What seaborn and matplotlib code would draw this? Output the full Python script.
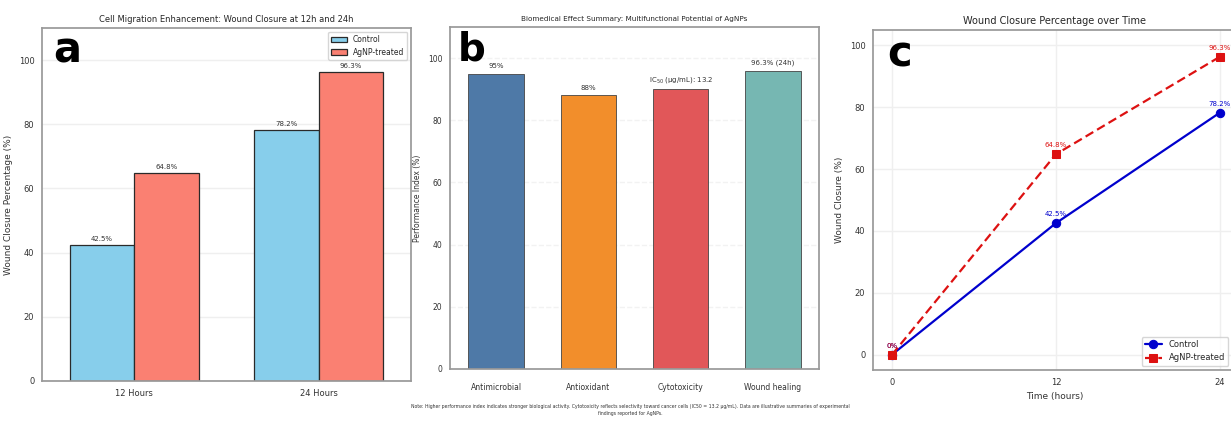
import numpy as np
import pandas as pd
import matplotlib
matplotlib.use("Agg")
import matplotlib.pyplot as plt
import seaborn as sns

# ---- data ----
time_groups = ["12 Hours", "24 Hours"]
treatments = ["Control", "AgNP-treated"]
control_vals = [42.5, 78.2]
agnp_vals = [64.8, 96.3]

effects = ["Antimicrobial", "Antioxidant", "Cytotoxicity", "Wound healing"]
effect_vals = [95, 88, 90, 96]
effect_labels = ["95%", "88%", "IC$_{50}$ (μg/mL): 13.2", "96.3% (24h)"]

time_hours = [0, 12, 24]
control_curve = [0, 42.5, 78.2]
agnp_curve = [0, 64.8, 96.3]

footnote = ("Note: Higher performance index indicates stronger biological activity. Cytotoxicity reflects selectivity "
            "toward cancer cells (IC50 = 13.2 μg/mL). Data are illustrative summaries of experimental\n"
            "findings reported for AgNPs.")

sns.set_theme(style="whitegrid")
plt.rcParams['font.family'] = ['DejaVu Sans']
plt.rcParams['axes.edgecolor'] = '#999999'
plt.rcParams['grid.color'] = '#efefef'

W, H = 1231, 429
fig = plt.figure(figsize=(W / 100, H / 100), dpi=100)

def box(l, t, r, b):
    return [l / W, 1 - b / H, (r - l) / W, (b - t) / H]

axa = fig.add_axes(box(42, 28, 411, 381))
axb = fig.add_axes(box(450, 27, 819, 369))
axc = fig.add_axes(box(873, 30, 1236, 370))

# ---- panel a ----
dfa = pd.DataFrame({
    "Time": time_groups * 2,
    "Group": [treatments[0]] * 2 + [treatments[1]] * 2,
    "Value": control_vals + agnp_vals,
})
sns.barplot(data=dfa, x="Time", y="Value", hue="Group", ax=axa,
            palette=["skyblue", "salmon"], width=0.7, edgecolor="#2a2a2a",
            linewidth=0.9, saturation=1)
for cont in axa.containers:
    axa.bar_label(cont, labels=[f"{v:.1f}%" for v in cont.datavalues],
                  fontsize=5, padding=2, color="#333333")
axa.set_ylim(0, 110)
axa.set_yticks([0, 20, 40, 60, 80, 100])
axa.set_xlabel("")
axa.set_ylabel("Wound Closure Percentage (%)", fontsize=6.5, color="#333333")
axa.set_title("Cell Migration Enhancement: Wound Closure at 12h and 24h", fontsize=6, pad=4)
axa.tick_params(labelsize=6, length=2, colors="#333333")
axa.legend(loc="upper right", fontsize=5.5, frameon=True, title=None)
axa.grid(axis="x", visible=False)
axa.text(0.03, 0.995, "a", transform=axa.transAxes, fontsize=30, fontweight="bold",
         va="top", ha="left", color="black")

# ---- panel b ----
dfb = pd.DataFrame({"Effect": effects, "Value": effect_vals})
sns.barplot(data=dfb, x="Effect", y="Value", hue="Effect", ax=axb, legend=False,
            palette=["#4e79a7", "#f28e2b", "#e15759", "#76b7b2"], width=0.6,
            edgecolor="#444444", linewidth=0.6, saturation=1)
for cont, lab in zip(axb.containers, effect_labels):
    axb.bar_label(cont, labels=[lab], fontsize=5, padding=3, color="#333333")
axb.set_ylim(0, 110)
axb.set_yticks([0, 20, 40, 60, 80, 100])
axb.set_xlabel("")
axb.set_ylabel("Performance Index (%)", fontsize=5.5, color="#333333")
axb.set_title("Biomedical Effect Summary: Multifunctional Potential of AgNPs", fontsize=5.2, pad=4)
axb.tick_params(labelsize=5.5, length=2, colors="#333333")
axb.tick_params(axis="x", pad=8)
axb.grid(axis="x", visible=False)
axb.grid(axis="y", linestyle="--", alpha=0.8)
axb.text(0.02, 0.99, "b", transform=axb.transAxes, fontsize=28, fontweight="bold",
         va="top", ha="left", color="black")

# ---- panel c ----
dfc = pd.DataFrame({
    "Time": time_hours * 2,
    "Value": control_curve + agnp_curve,
    "Group": [treatments[0]] * 3 + [treatments[1]] * 3,
})
sns.lineplot(data=dfc, x="Time", y="Value", hue="Group", style="Group", ax=axc,
             palette=["mediumblue", "#dd1111"], markers=["o", "s"],
             dashes=[(None, None), (4, 2)], linewidth=1.6, markersize=6,
             markeredgecolor=None)
for x, y in zip(time_hours, control_curve):
    axc.annotate(f"{y:g}%", (x, y), textcoords="offset points", xytext=(0, 5),
                 ha="center", fontsize=5, color="mediumblue")
for x, y in zip(time_hours, agnp_curve):
    axc.annotate(f"{y:g}%", (x, y), textcoords="offset points", xytext=(0, 5),
                 ha="center", fontsize=5, color="#dd1111")
axc.set_ylim(-5, 105)
axc.set_xlim(-1.4, 25.2)
axc.set_xticks(time_hours)
axc.set_yticks([0, 20, 40, 60, 80, 100])
axc.set_xlabel("Time (hours)", fontsize=6.5, color="#333333")
axc.set_ylabel("Wound Closure (%)", fontsize=6.5, color="#333333")
axc.set_title("Wound Closure Percentage over Time", fontsize=7, pad=4)
axc.tick_params(labelsize=6, length=2, colors="#333333")
axc.legend(loc="lower right", fontsize=6, frameon=True, title=None,
           bbox_to_anchor=(0.99, 0.0))
axc.text(0.04, 0.99, "c", transform=axc.transAxes, fontsize=30, fontweight="bold",
         va="top", ha="left", color="black")

fig.text(630 / W, 1 - 404 / H, footnote, fontsize=3.3, ha="center", va="top",
         color="#333333", linespacing=1.4)

fig.savefig("out.png", dpi=100)
